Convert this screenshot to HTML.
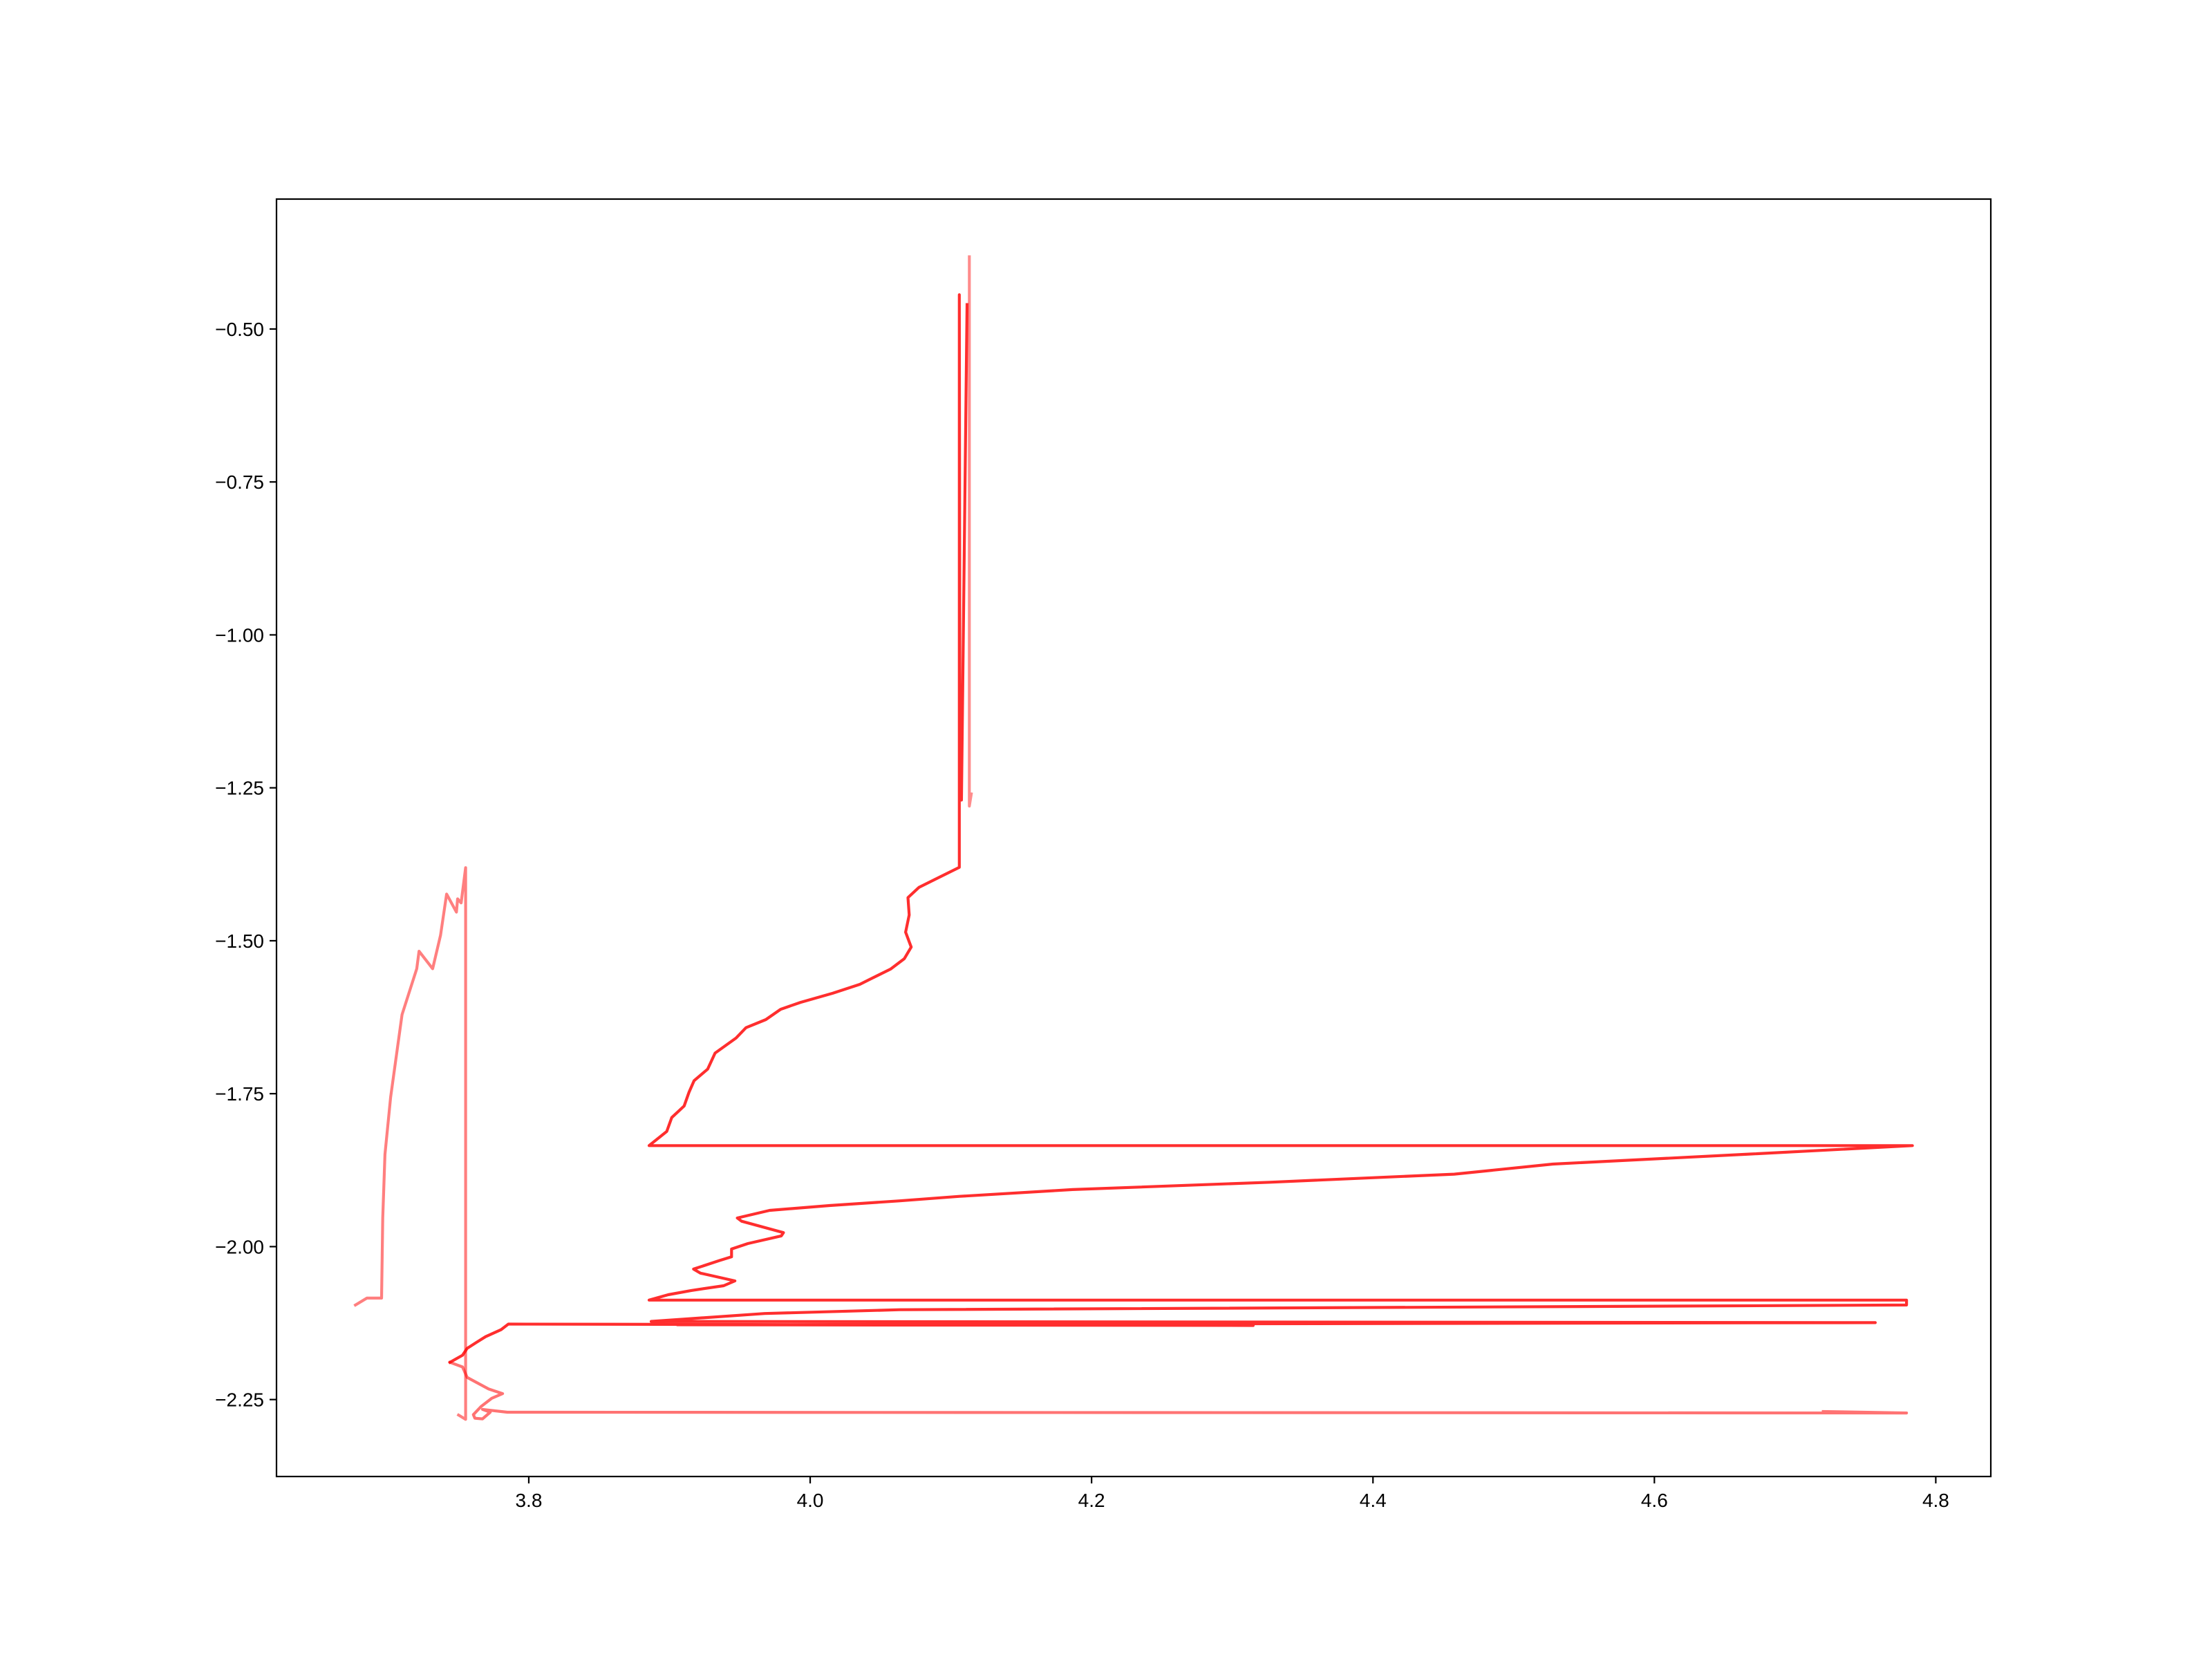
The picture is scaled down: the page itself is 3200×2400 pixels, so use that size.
<!DOCTYPE html>
<html><head><meta charset="utf-8"><style>
html,body{margin:0;padding:0;background:#fff;}
svg{display:block;}
text{font-family:"Liberation Sans","DejaVu Sans",sans-serif;font-size:28px;fill:#000;}
</style></head><body>
<svg id="chart" width="3200" height="2400" viewBox="0 0 3200 2400" xmlns="http://www.w3.org/2000/svg">
<rect x="0" y="0" width="3200" height="2400" fill="#fff"/>
<g id="plot"></g>
<g id="axes"></g>
</svg>
<script>
const xTicks = [3.8, 4.0, 4.2, 4.4, 4.6, 4.8];
const xTickLabels = ["3.8", "4.0", "4.2", "4.4", "4.6", "4.8"];
const yTicks = [-0.5, -0.75, -1.0, -1.25, -1.5, -1.75, -2.0, -2.25];
const yTickLabels = ["\u22120.50", "\u22120.75", "\u22121.00", "\u22121.25", "\u22121.50", "\u22121.75", "\u22122.00", "\u22122.25"];

// Red main trace
const redX = [4.1115, 4.1075, 4.1065, 4.1060, 4.1060, 4.0774, 4.0695, 4.0704, 4.0678, 4.0718, 4.0669, 4.0573, 4.0423, 4.0353, 4.0160, 3.9931, 3.9790, 3.9685, 3.9544, 3.9473, 3.9324, 3.9271, 3.9175, 3.9139, 3.9104, 3.9016, 3.8981, 3.8855,
  4.7834, 4.6683, 4.5279, 4.4577, 4.3268, 4.1864, 4.1062, 4.0629, 4.0138, 3.9712, 3.9482, 3.9513, 3.9810, 3.9795, 3.9557, 3.9441, 3.9441, 3.9352, 3.9171, 3.9220, 3.9465, 3.9385, 3.9155, 3.8991, 3.8855,
  4.7792, 4.7792, 4.0637, 3.9677, 3.8870, 4.7570, 3.9055, 4.3149, 3.7855, 3.7803, 3.7693, 3.7628, 3.7562, 3.7529, 3.7440];
const redY = [-0.46, -1.27, -1.27, -0.444, -1.380, -1.4126, -1.4294, -1.4578, -1.4859, -1.5104, -1.5293, -1.5461, -1.5632, -1.5713, -1.5858, -1.6008, -1.6121, -1.6289, -1.6421, -1.6591, -1.6836, -1.7099, -1.7288, -1.7475, -1.7701, -1.7890, -1.8116, -1.8349,
  -1.8349, -1.8487, -1.8651, -1.8815, -1.8948, -1.9067, -1.9178, -1.9253, -1.9329, -1.9408, -1.9532, -1.9585, -1.9772, -1.9825, -1.9950, -2.0039, -2.0166, -2.0230, -2.0367, -2.0434, -2.0560, -2.0639, -2.0717, -2.0786, -2.0874,
  -2.0874, -2.0955, -2.1031, -2.1093, -2.1222, -2.1243, -2.1278, -2.1289, -2.1266, -2.1358, -2.1472, -2.1566, -2.1663, -2.1776, -2.1891];

// Pink lower loop + bottom line
const pinkLowX = [3.7440, 3.7529, 3.7562, 3.7715, 3.7814, 3.7737, 3.7661, 3.7606, 3.7617, 3.7671, 3.7726, 3.7671, 3.7848, 4.7792, 4.7200];
const pinkLowY = [-2.1891, -2.1967, -2.2138, -2.2327, -2.2403, -2.2479, -2.2613, -2.2747, -2.2805, -2.2816, -2.2707, -2.2661, -2.2707, -2.2719, -2.2696];

// Pink left climb + vertical
const pinkLeftX = [3.6768, 3.6849, 3.6954, 3.6962, 3.6978, 3.7018, 3.7099, 3.7204, 3.7220, 3.7317, 3.7373, 3.7416, 3.7486, 3.7494, 3.7519, 3.7551, 3.7551, 3.7501];
const pinkLeftY = [-2.0955, -2.0842, -2.0842, -1.9530, -1.8492, -1.7558, -1.6209, -1.5457, -1.5171, -1.5457, -1.4910, -1.4237, -1.4532, -1.4315, -1.4382, -1.3805, -2.2823, -2.2754];

// Pink spike
const pinkSpikeX = [4.1131, 4.1131, 4.1145];
const pinkSpikeY = [-0.382, -1.28, -1.26];

const L = 400, R = 2880, T = 288, B = 2136;
const xMin = 3.6207, xMax = 4.8391, yMin = -2.3758, yMax = -0.2876;
function sx(v){ return L + (v - xMin) / (xMax - xMin) * (R - L); }
function sy(v){ return B - (v - yMin) / (yMax - yMin) * (B - T); }

const NS = "http://www.w3.org/2000/svg";
const plot = document.getElementById('plot');
const axes = document.getElementById('axes');

function drawLine(xs, ys, color, op, name){
  const p = document.createElementNS(NS, 'polyline');
  p.setAttribute('points', xs.map((x,i)=> sx(x).toFixed(1)+','+sy(ys[i]).toFixed(1)).join(' '));
  p.setAttribute('fill','none');
  p.setAttribute('stroke', color);
  p.setAttribute('stroke-opacity', op);
  p.setAttribute('stroke-width','4.2');
  p.setAttribute('stroke-linejoin','round');
  p.setAttribute('stroke-linecap','square');
  
  
  plot.appendChild(p);
}
drawLine(pinkLeftX, pinkLeftY, '#ff0000', 0.5, 'series-pink-left');
drawLine(pinkSpikeX, pinkSpikeY, '#ff0000', 0.45, 'series-pink-spike');
drawLine(pinkLowX, pinkLowY, '#ff0000', 0.55, 'series-pink-bottom');
drawLine(redX, redY, '#ff0000', 0.82, 'series-red-main');

// spines
const frame = document.createElementNS(NS,'rect');
frame.setAttribute('x', L); frame.setAttribute('y', T);
frame.setAttribute('width', R-L); frame.setAttribute('height', B-T);
frame.setAttribute('fill','none'); frame.setAttribute('stroke','#000'); frame.setAttribute('stroke-width','2.2');


axes.appendChild(frame);

xTicks.forEach((v,i)=>{
  const x = sx(v);
  const t = document.createElementNS(NS,'line');
  t.setAttribute('x1',x); t.setAttribute('x2',x); t.setAttribute('y1',B); t.setAttribute('y2',B+10);
  t.setAttribute('stroke','#000'); t.setAttribute('stroke-width','2.2');
  
  
  axes.appendChild(t);
  const tx = document.createElementNS(NS,'text');
  tx.setAttribute('x',x); tx.setAttribute('y',B+44); tx.setAttribute('text-anchor','middle');
  tx.textContent = xTickLabels[i];
  
  
  axes.appendChild(tx);
});
yTicks.forEach((v,i)=>{
  const y = sy(v);
  const t = document.createElementNS(NS,'line');
  t.setAttribute('x1',L-10); t.setAttribute('x2',L); t.setAttribute('y1',y); t.setAttribute('y2',y);
  t.setAttribute('stroke','#000'); t.setAttribute('stroke-width','2.2');
  
  
  axes.appendChild(t);
  const tx = document.createElementNS(NS,'text');
  tx.setAttribute('x',L-18); tx.setAttribute('y',y+10); tx.setAttribute('text-anchor','end');
  tx.textContent = yTickLabels[i];
  
  
  axes.appendChild(tx);
});
</script>
</body></html>
